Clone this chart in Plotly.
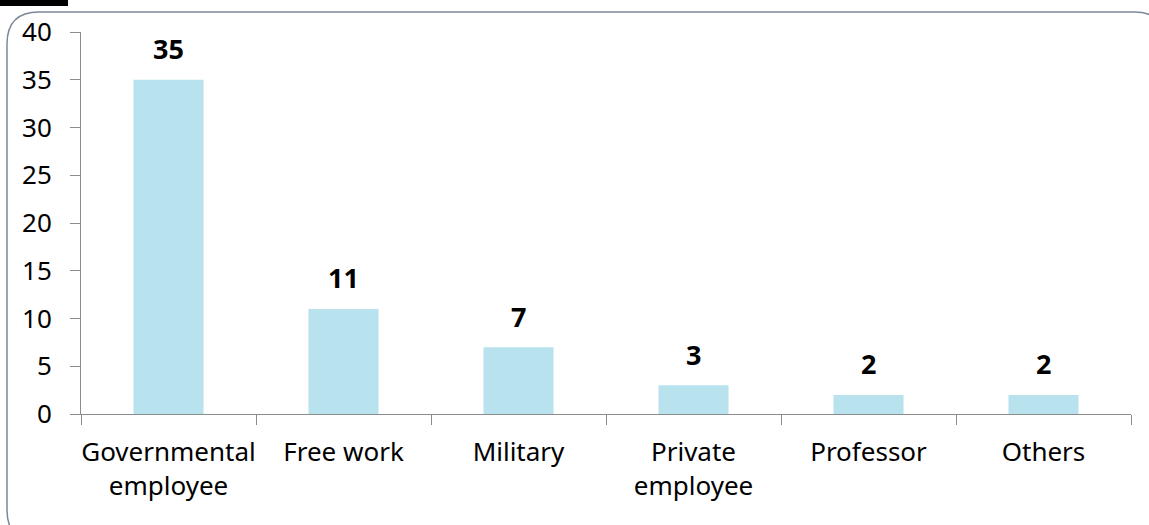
import plotly.graph_objects as go

categories = ["Governmental<br>employee", "Free work", "Military", "Private<br>employee", "Professor", "Others"]
values = [35, 11, 7, 3, 2, 2]
y_ticks = [0, 5, 10, 15, 20, 25, 30, 35, 40]

W, H = 1149, 525
L, R, T, B = 81, 18, 32, 111
pw, ph = W - L - R, H - T - B

def px(x):
    return (x - L) / pw

def py(y):
    return (H - B - y) / ph

bar_color = "#B7E2EE"
axis_color = "#8C8C8C"
font_family = "Noto Sans, Open Sans, Arial, sans-serif"

fig = go.Figure()
fig.add_trace(go.Bar(x=categories, y=values, marker=dict(color=bar_color, line=dict(width=0)),
                     hoverinfo="skip"))

for c, v in zip(categories, values):
    fig.add_annotation(x=c, y=v, text="<b>%d</b>" % v, showarrow=False,
                       yanchor="middle", yshift=31,
                       font=dict(family=font_family, size=27, color="#000000"))

# rounded border around chart
x0, x1, y0, y1, r = 7, 1166, 12, 542, 32
path = (f"M {px(x0)},{py(y0 + r)} "
        f"Q {px(x0)},{py(y0)} {px(x0 + r)},{py(y0)} "
        f"L {px(x1 - r)},{py(y0)} "
        f"Q {px(x1)},{py(y0)} {px(x1)},{py(y0 + r)} "
        f"L {px(x1)},{py(y1 - r)} "
        f"Q {px(x1)},{py(y1)} {px(x1 - r)},{py(y1)} "
        f"L {px(x0 + r)},{py(y1)} "
        f"Q {px(x0)},{py(y1)} {px(x0)},{py(y1 - r)} Z")
fig.add_shape(type="path", path=path, xref="paper", yref="paper",
              line=dict(color="#7D8898", width=1.5), layer="below")
# black bar at top-left
fig.add_shape(type="rect", xref="paper", yref="paper",
              x0=px(0), x1=px(68), y0=py(6), y1=py(0),
              fillcolor="#000000", line=dict(width=0))

fig.update_layout(
    width=W, height=H,
    margin=dict(l=L, r=R, t=T, b=B, autoexpand=False),
    paper_bgcolor="white", plot_bgcolor="white",
    bargap=0.6, showlegend=False,
    font=dict(family=font_family, size=26, color="#000000"),
    xaxis=dict(showline=True, linecolor=axis_color, linewidth=1,
               ticks="outside", tickson="boundaries", ticklen=10, tickcolor=axis_color,
               ticklabelstandoff=15, tickangle=0, automargin=False,
               showgrid=False, tickfont=dict(size=26, color="#000000"), fixedrange=True),
    yaxis=dict(range=[0, 40], tickvals=y_ticks, showline=True, linecolor=axis_color, linewidth=1,
               ticks="outside", ticklen=10, tickcolor=axis_color, showgrid=False, zeroline=False,
               ticklabelstandoff=13, automargin=False,
               tickfont=dict(size=26, color="#000000"), fixedrange=True),
)

fig.write_html("out.html")
